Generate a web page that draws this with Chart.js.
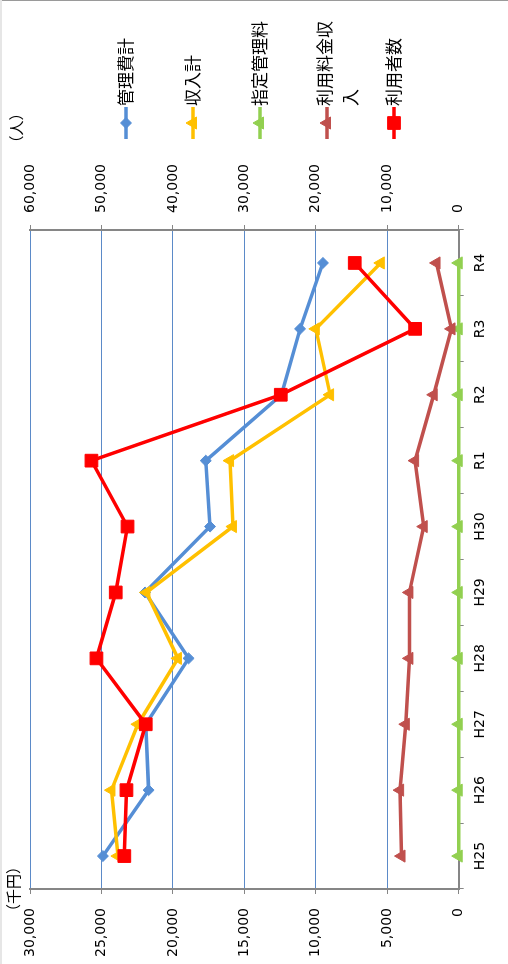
<!DOCTYPE html>
<html lang="ja">
<head>
<meta charset="utf-8">
<title>管理費計・収入計・利用者数の推移</title>
<script src="https://cdn.jsdelivr.net/npm/chart.js@4.4.1/dist/chart.umd.min.js"></script>
<style>
  html, body { margin: 0; padding: 0; background: #fff; overflow: hidden; }
  #page { position: relative; width: 508px; height: 964px; }
  /* the chart is drawn landscape and turned a quarter to the left */
  #rot { position: absolute; left: 0; top: 964px; width: 964px; height: 508px;
         transform-origin: 0 0; transform: rotate(-90deg); }
  .edge-top { position: absolute; left: 0; top: 0; width: 508px; height: 1px; background: #9a9a9a; }
  .edge-left { position: absolute; left: 0; top: 0; width: 2px; height: 964px; background: #e6e6e6; }
</style>
</head>
<body>
<div id="page">
  <div id="rot"><canvas id="chart" width="964" height="508"></canvas></div>
  <div class="edge-top"></div>
  <div class="edge-left"></div>
</div>
<script>
// 年度
const years = ['H25', 'H26', 'H27', 'H28', 'H29', 'H30', 'R1', 'R2', 'R3', 'R4'];

// 千円
const kanrihiKei = [24900, 21700, 21900, 18900, 21950, 17400, 17700, 12400, 11100, 9500];
const shunyuKei = [23850, 24300, 22450, 19650, 21850, 15800, 16000, 9000, 10000, 5450];
const shiteiKanriryo = [0, 0, 0, 0, 0, 0, 0, 0, 0, 0];
const riyoRyokinShunyu = [4000, 4100, 3700, 3450, 3450, 2450, 3050, 1750, 500, 1550];

// 人
const riyoshaSu = [46800, 46500, 43800, 50700, 48000, 46350, 51400, 24900, 6100, 14550];

const seriesNames = ['管理費計', '収入計', '指定管理料', '利用料金収入', '利用者数'];
const yenAxis = { min: 0, max: 30000, step: 5000 };
const personAxis = { min: 0, max: 60000, step: 10000 };
const yenTitle = '（千円）';
const personTitle = '（人）';

const tickFont = { family: '"DejaVu Sans", Verdana, sans-serif', size: 14 };
const jpFont = '"Noto Sans CJK JP", sans-serif';
const fmt = v => v.toLocaleString('en-US');

function series(i, data, color, style, radius, axis, order) {
  return {
    label: seriesNames[i],
    data: data,
    yAxisID: axis,
    borderColor: color,
    backgroundColor: color,
    borderWidth: 3.5,
    pointStyle: style,
    pointRadius: radius,
    pointBorderWidth: 1,
    pointBackgroundColor: color,
    pointBorderColor: color,
    tension: 0,
    clip: false,
    order: order
  };
}

function wrapText(ctx, text, maxW) {
  const lines = [];
  let cur = '';
  for (const ch of text) {
    if (cur && ctx.measureText(cur + ch).width > maxW) {
      lines.push(cur);
      cur = ch;
    } else {
      cur += ch;
    }
  }
  lines.push(cur);
  return lines;
}

// legend on the right side + the two unit captions
const sideLegend = {
  id: 'sideLegend',
  afterDraw(chart) {
    const { ctx, chartArea } = chart;
    const x0 = chartArea.right + 91;
    ctx.save();
    ctx.font = '17px ' + jpFont;
    ctx.textBaseline = 'middle';
    ctx.textAlign = 'left';
    chart.data.datasets.forEach((ds, i) => {
      const y = chartArea.top + 96 + i * 67;
      ctx.strokeStyle = ds.borderColor;
      ctx.lineWidth = ds.borderWidth;
      ctx.beginPath();
      ctx.moveTo(x0, y);
      ctx.lineTo(x0 + 32, y);
      ctx.stroke();
      ctx.fillStyle = ds.pointBackgroundColor;
      ctx.strokeStyle = ds.pointBorderColor;
      ctx.lineWidth = 1;
      Chart.helpers.drawPoint(ctx, {
        pointStyle: ds.pointStyle, radius: ds.pointRadius, rotation: 0, borderWidth: 1
      }, x0 + 16, y);
      ctx.fillStyle = '#000';
      const lines = wrapText(ctx, ds.label, 92);
      const y1 = lines.length > 1 ? y - 2 : y;
      lines.forEach((t, k) => ctx.fillText(t, x0 + 33, y1 + k * 26));
    });
    ctx.font = '15px ' + jpFont;
    ctx.textAlign = 'center';
    ctx.fillText(yenTitle, chartArea.left, 13);
    ctx.fillText(personTitle, chartArea.right + 102, 16);
    ctx.restore();
  }
};

new Chart(document.getElementById('chart'), {
  type: 'line',
  data: {
    labels: years,
    datasets: [
      series(0, kanrihiKei, '#558ED5', 'rectRot', 5.5, 'y', 5),
      series(1, shunyuKei, '#FFC000', 'triangle', 7, 'y', 4),
      series(2, shiteiKanriryo, '#92D050', 'triangle', 7, 'y', 3),
      series(3, riyoRyokinShunyu, '#C0504D', 'triangle', 7, 'y', 2),
      series(4, riyoshaSu, '#FF0000', 'rect', 9, 'y1', 1)
    ]
  },
  options: {
    responsive: false,
    animation: false,
    layout: { padding: { top: 30, right: 150, left: 0, bottom: 0 } },
    plugins: {
      legend: { display: false },
      tooltip: { enabled: false }
    },
    scales: {
      x: {
        offset: true,
        grid: { offset: true, drawOnChartArea: false, tickLength: 5, color: '#868686' },
        border: { color: '#868686', width: 2 },
        ticks: { color: '#000', font: tickFont, padding: 8, maxRotation: 0, autoSkip: false },
        afterFit(s) { s.height = 49.3; }
      },
      y: {
        position: 'left',
        min: yenAxis.min,
        max: yenAxis.max,
        ticks: { stepSize: yenAxis.step, padding: 14, color: '#000', font: tickFont, callback: fmt },
        grid: { color: '#5B8AC8', lineWidth: 1, tickLength: 5, tickColor: '#868686' },
        border: { color: '#868686', width: 2 },
        afterFit(s) { s.width = 75; }
      },
      y1: {
        position: 'right',
        min: personAxis.min,
        max: personAxis.max,
        ticks: { stepSize: personAxis.step, padding: 12, color: '#000', font: tickFont, callback: fmt },
        grid: { drawOnChartArea: false, tickLength: 5, color: '#868686' },
        border: { color: '#868686', width: 2 },
        afterFit(s) { s.width = 80; }
      }
    }
  },
  plugins: [sideLegend]
});
</script>
</body>
</html>
